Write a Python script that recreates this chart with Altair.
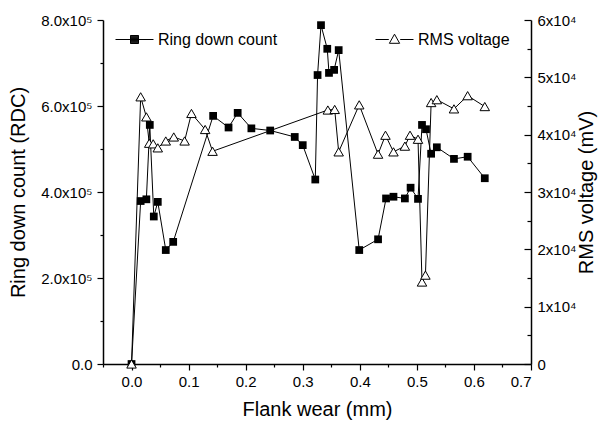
import altair as alt
import pandas as pd

# Ring down count (left axis)
rdc_x = [0, 0.016, 0.026, 0.032, 0.039, 0.046, 0.060, 0.073, 0.143, 0.170, 0.186, 0.210,
         0.243, 0.286, 0.300, 0.322, 0.326, 0.332, 0.343, 0.346, 0.355, 0.363, 0.399, 0.432,
         0.446, 0.459, 0.479, 0.489, 0.502, 0.509, 0.516, 0.525, 0.535, 0.565, 0.589, 0.619]
rdc_y = [0, 379000, 383000, 556000, 343000, 377000, 265000, 284000, 577000, 550000, 584000, 548000,
         543000, 528000, 509000, 429000, 672000, 788000, 733000, 677000, 684000, 730000, 265000, 290000,
         385000, 389000, 385000, 410000, 384000, 556000, 546000, 489000, 504000, 477000, 482000, 432000]

# RMS voltage (right axis)
rms_x = [0, 0.016, 0.026, 0.031, 0.038, 0.046, 0.060, 0.074, 0.093, 0.105, 0.129, 0.142,
         0.344, 0.356, 0.363, 0.399, 0.432, 0.445, 0.459, 0.479, 0.488, 0.502, 0.509, 0.515,
         0.525, 0.535, 0.565, 0.589, 0.619]
rms_y = [0, 46600, 43100, 38500, 38400, 37700, 38900, 39600, 38900, 43700, 40900, 37100,
         44300, 44400, 37000, 45200, 36600, 39900, 37000, 38000, 39900, 39200, 14300, 15500,
         45600, 46100, 44500, 46800, 44900]

x_ticks = [round(-0.05 + 0.05 * i, 2) for i in range(16)]
left_ticks = [100000 * i for i in range(9)]
right_major = [10000 * i for i in range(7)]
right_minor = [5000 + 10000 * i for i in range(6)]

FONT = "Liberation Sans"

rdc = pd.DataFrame({"wear": rdc_x, "val": rdc_y, "ord": list(range(len(rdc_x)))})
rms = pd.DataFrame({"wear": rms_x, "val": rms_y, "ord": list(range(len(rms_x)))})

xscale = alt.Scale(domain=[-0.05, 0.7], nice=False, zero=False)
xaxis = alt.Axis(
    title="Flank wear (mm)", values=x_ticks,
    labelExpr="round(datum.value*20)%2==0 ? format(datum.value,'.1f') : ''",
    tickSize={"condition": {"test": "round(datum.value*20)%2==0", "value": 6}, "value": 3},
    labelPadding=4, titlePadding=10, grid=False,
)
x_enc = alt.X("wear:Q", scale=xscale, axis=xaxis)

left_axis = alt.Axis(
    title="Ring down count (RDC)", values=left_ticks, orient="left",
    labelExpr="datum.value % 200000 == 0 ? (datum.value == 0 ? '0.0' : format(datum.value/100000,'.1f') + 'x10\u2075') : ''",
    tickSize={"condition": {"test": "datum.value % 200000 == 0", "value": 6}, "value": 3},
    labelPadding=5, titlePadding=12, grid=False,
)
right_axis = alt.Axis(
    title="RMS voltage (mV)", values=right_major, orient="right", ticks=False,
    labelExpr="datum.value == 0 ? '0' : format(datum.value/10000,'d') + 'x10\u2074'",
    labelPadding=6, titlePadding=1, titleAngle=270, titleBaseline="top", grid=False,
)

# legend glyphs: line - marker - line (unit square scaled to the symbol size)
_hatch = "".join("M-0.21,%.3fH0.21" % (-0.2 + 0.05 * i) for i in range(9))
RDC_PATH = "M-1,0H-0.21M0.21,0H1M-0.21,-0.21H0.21V0.21H-0.21Z" + _hatch
RMS_PATH = "M-1,0H-0.3M0.3,0H1M0,-0.28L0.27,0.2L-0.27,0.2Z"

rms_dom = alt.Scale(domain=[0, 60000], nice=False)
y_rdc = alt.Y("val:Q", scale=alt.Scale(domain=[0, 800000], nice=False), axis=left_axis)
y_rms = alt.Y("val:Q", scale=rms_dom, axis=right_axis)


def legend_layer(df, label, path, lx):
    return alt.Chart(df).transform_calculate(lab="'%s'" % label).transform_filter("datum.wear < -1").mark_point(
        filled=False, color="black", strokeWidth=1, size=1444, opacity=1).encode(
        shape=alt.Shape("lab:N", scale=alt.Scale(domain=[label], range=[path]),
                        legend=alt.Legend(orient="none", legendX=lx, legendY=0, title=None, padding=0,
                                          symbolSize=1444, symbolStrokeColor="black",
                                          symbolStrokeWidth=1, symbolOpacity=1, labelFont=FONT, labelFontSize=16,
                                          labelColor="black", labelOffset=4)))


rdc_line = alt.Chart(rdc).mark_line(color="black", strokeWidth=1).encode(x=x_enc, y=y_rdc, order="ord:Q")
rdc_pts = alt.Chart(rdc).mark_point(shape="square", filled=True, color="black", size=60, opacity=1).encode(
    x=x_enc, y=y_rdc)
rdc_leg = legend_layer(rdc, "Ring down count", RDC_PATH, 12)

rms_line = alt.Chart(rms).mark_line(color="black", strokeWidth=1).encode(x=x_enc, y=y_rms, order="ord:Q")
rms_pts = alt.Chart(rms).mark_point(shape="triangle-up", filled=True, fill="white", stroke="black",
                                    strokeWidth=1, size=90, opacity=1).encode(x=x_enc, y=y_rms)
rms_leg = legend_layer(rms, "RMS voltage", RMS_PATH, 272)

# inward-pointing ticks of the right axis (major and minor)
tick_major = alt.Chart(rms).transform_filter("datum.wear < -1").mark_point(opacity=0).encode(
    y=alt.Y("val:Q", scale=rms_dom, axis=alt.Axis(values=right_major, orient="right", offset=-7, tickSize=7,
                                                  labels=False, domain=False, title=None, grid=False)))
tick_minor = alt.Chart(rms).transform_filter("datum.wear < -1").mark_point(opacity=0).encode(
    y=alt.Y("val:Q", scale=rms_dom, axis=alt.Axis(values=right_minor, orient="right", offset=-4, tickSize=4,
                                                  labels=False, domain=False, title=None, grid=False)))

left = alt.layer(rdc_line, rdc_pts, rdc_leg)
right = alt.layer(rms_line, rms_pts, rms_leg)

chart = alt.layer(left, right, tick_major, tick_minor).resolve_scale(
    y="independent", shape="independent").properties(
    width=428, height=344,
    autosize=alt.AutoSizeParams(type="none"),
    padding={"left": 95, "top": 12, "right": 68, "bottom": 60},
).configure_view(stroke=None).configure_axis(
    domainColor="black", domainWidth=1.5, tickColor="black", tickWidth=1.2,
    labelFont=FONT, labelFontSize=15, labelColor="black",
    titleFont=FONT, titleFontSize=20, titleFontWeight="normal", titleColor="black",
)

chart.save("out.html", embed_options={"renderer": "svg", "actions": False})
